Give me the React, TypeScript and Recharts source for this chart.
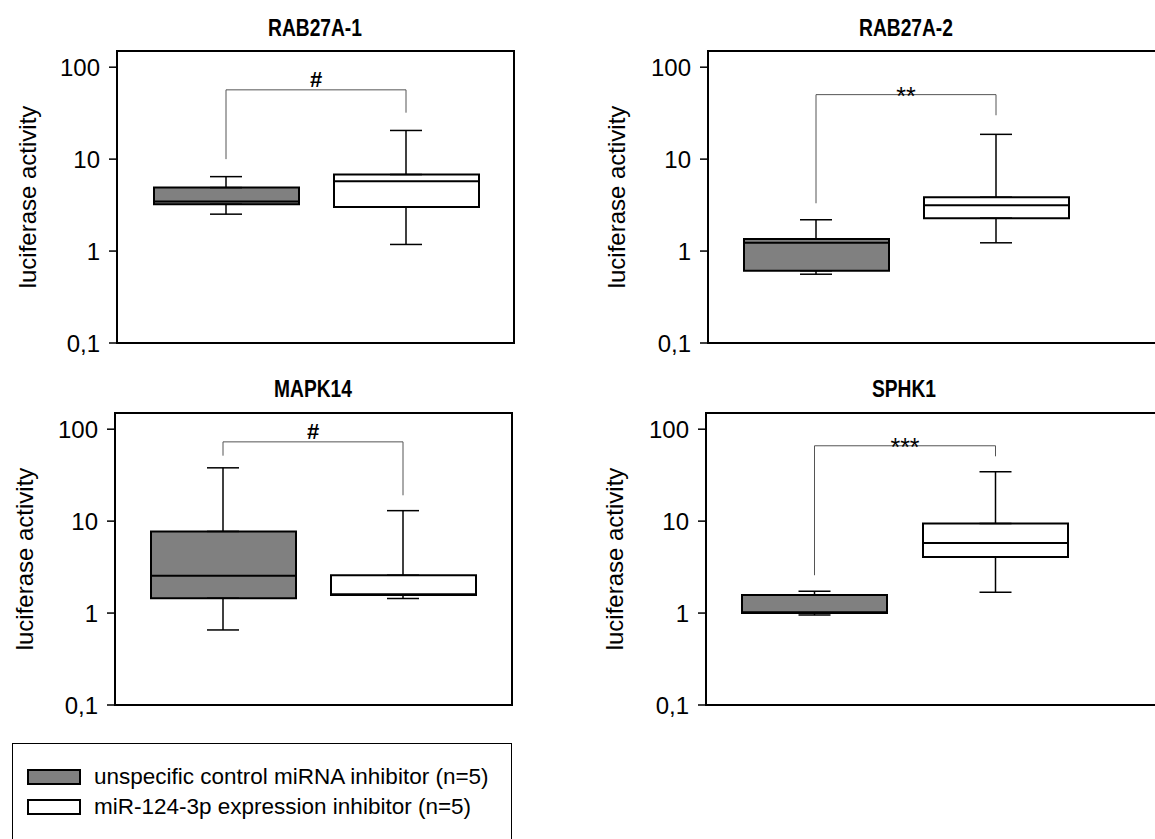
import React from 'react';
import { ComposedChart, Bar, Cell, Scatter, ErrorBar, XAxis, YAxis, ReferenceLine } from 'recharts';

const FONT = '"Liberation Sans", Arial, sans-serif';

const groupNames = ['unspecific control miRNA inhibitor (n=5)', 'miR-124-3p expression inhibitor (n=5)'];
const groupFills = ['#808080', '#ffffff'];
const categories = ['control', 'inhibitor'];
const panelTitles = ['RAB27A-1', 'RAB27A-2', 'MAPK14', 'SPHK1'];
const yTicks = [0.1, 1, 10, 100];

// [lower whisker, q1, median, q3, upper whisker] per panel
const controlStats = [
  [2.52, 3.23, 3.46, 4.9, 6.45],
  [0.56, 0.61, 1.23, 1.35, 2.19],
  [0.655, 1.45, 2.54, 7.73, 38],
  [0.95, 1.0, 1.02, 1.57, 1.73],
];
const inhibitorStats = [
  [1.18, 3.02, 5.74, 6.8, 20.5],
  [1.23, 2.28, 3.15, 3.85, 18.6],
  [1.44, 1.57, 1.6, 2.58, 13],
  [1.68, 4.07, 5.78, 9.44, 34.5],
];

// significance brackets
const bracketTop = [56.7, 50.3, 72.8, 66];
const bracketLeftEnd = [10, 3.31, 51.5, 2.58];
const bracketRightEnd = [32, 30, 19.1, 50.7];
const significance = ['#', '**', '#', '***'];

const BOX_W = 145;
const CHART_H = 361;
const M_TOP = 51;
const M_BOTTOM = 18;
const M_RIGHT = 15;

const layout = [
  { left: 0, top: 0, width: 529, yw: 117, labelX: 27, padL: 19, padR: 18, titleX: 315, titleY: 28 },
  { left: 575, top: 0, width: 600, yw: 133, labelX: 41, padL: 18, padR: 74, titleX: 906, titleY: 28 },
  { left: 0, top: 362, width: 527, yw: 115, labelX: 24, padL: 18, padR: 19, titleX: 313, titleY: 389 },
  { left: 575, top: 362, width: 600, yw: 131, labelX: 39, padL: 18, padR: 74, titleX: 904, titleY: 389 },
];

const sigStyle = [
  { fontSize: 22, fontWeight: 700, dy: -3 },
  { fontSize: 25, fontWeight: 400, dy: 10 },
  { fontSize: 22, fontWeight: 700, dy: -3 },
  { fontSize: 25, fontWeight: 400, dy: 10 },
];

const fmtTick = (v: number) => String(v).replace('.', ',');

const MedianMark = (props: any) => {
  const { cx, cy } = props;
  if (cx == null || cy == null) return <g />;
  return <line x1={cx - BOX_W / 2} x2={cx + BOX_W / 2} y1={cy} y2={cy} stroke="#000" strokeWidth={2} />;
};

const NoMark = () => <g />;

const sigLabel = (text: string, st: { fontSize: number; fontWeight: number; dy: number }) => (props: any) => {
  const vb = props.viewBox || {};
  const x = (vb.x ?? 0) + (vb.width ?? 0) / 2;
  const y = vb.y ?? 0;
  return (
    <text x={x} y={y + st.dy} textAnchor="middle" fontFamily={FONT} fontSize={st.fontSize} fontWeight={st.fontWeight} fill="#000">
      {text}
    </text>
  );
};

function BoxPanel({ idx }: { idx: number }) {
  const L = layout[idx];
  const stats = [controlStats[idx], inhibitorStats[idx]];
  const data = categories.map((name, i) => {
    const [lo, q1, med, q3, hi] = stats[i];
    return {
      name,
      box: [q1, q3],
      med,
      q1,
      q3,
      lowErr: [q1 - lo, 0],
      highErr: [0, hi - q3],
    };
  });
  const axisStroke = { stroke: '#000', strokeWidth: 2 };
  const plotW = L.width - L.yw - M_RIGHT;
  const plotH = CHART_H - M_TOP - M_BOTTOM;

  return (
    <div style={{ position: 'absolute', left: L.left, top: L.top }}>
      <ComposedChart
        width={L.width}
        height={CHART_H}
        data={data}
        margin={{ top: M_TOP, right: M_RIGHT, bottom: M_BOTTOM, left: 0 }}
      >
        <XAxis dataKey="name" tick={false} tickLine={false} height={0} axisLine={axisStroke}
          padding={{ left: L.padL, right: L.padR }} />
        <YAxis
          type="number"
          scale="log"
          domain={[0.1, 150]}
          allowDataOverflow
          ticks={yTicks}
          tickFormatter={fmtTick}
          width={L.yw}
          tickSize={8}
          tickMargin={9}
          axisLine={axisStroke}
          tickLine={{ stroke: '#000', strokeWidth: 1.5 }}
          tick={{ fontSize: 24, fill: '#000', fontFamily: FONT }}
          label={{
            value: 'luciferase activity',
            angle: -90,
            position: 'insideLeft',
            offset: L.labelX,
            style: { textAnchor: 'middle', fontSize: 24, fill: '#000', fontFamily: FONT },
          }}
        />

        <Scatter dataKey="q1" shape={NoMark} isAnimationActive={false}>
          <ErrorBar dataKey="lowErr" direction="y" width={16} stroke="#000" strokeWidth={1.5} />
        </Scatter>
        <Scatter dataKey="q3" shape={NoMark} isAnimationActive={false}>
          <ErrorBar dataKey="highErr" direction="y" width={16} stroke="#000" strokeWidth={1.5} />
        </Scatter>
        <Bar dataKey="box" barSize={BOX_W} stroke="#000" strokeWidth={2} isAnimationActive={false}>
          {data.map((d, i) => (
            <Cell key={d.name} fill={groupFills[i]} />
          ))}
        </Bar>
        <Scatter dataKey="med" shape={MedianMark} isAnimationActive={false} />

        <ReferenceLine
          segment={[{ x: categories[0], y: bracketTop[idx] }, { x: categories[1], y: bracketTop[idx] }]}
          stroke="#555" strokeWidth={1}
          label={sigLabel(significance[idx], sigStyle[idx])}
        />
        <ReferenceLine
          segment={[{ x: categories[0], y: bracketTop[idx] }, { x: categories[0], y: bracketLeftEnd[idx] }]}
          stroke="#555" strokeWidth={1}
        />
        <ReferenceLine
          segment={[{ x: categories[1], y: bracketTop[idx] }, { x: categories[1], y: bracketRightEnd[idx] }]}
          stroke="#555" strokeWidth={1}
        />
      </ComposedChart>
      {/* plot frame */}
      <div style={{
        position: 'absolute', left: L.yw - 1, top: M_TOP - 1, width: plotW + 2, height: plotH + 2,
        border: '2px solid #000', boxSizing: 'border-box', pointerEvents: 'none',
      }} />
      <div style={{
        position: 'absolute', left: L.titleX - L.left - 150, top: L.titleY - L.top - 14, width: 300,
        textAlign: 'center', fontFamily: FONT, fontWeight: 700, fontSize: 20, lineHeight: '28px', color: '#000',
        transform: 'scale(0.96, 1.18)',
      }}>
        {panelTitles[idx]}
      </div>
    </div>
  );
}

export default function App() {
  return (
    <div style={{ position: 'absolute', left: 0, top: 0, width: 1155, height: 839, overflow: 'hidden', background: '#fff' }}>
      {panelTitles.map((t, i) => <BoxPanel key={t} idx={i} />)}
      <div style={{
        position: 'absolute', left: 12, top: 743, width: 500, height: 140,
        border: '1px solid #000', boxSizing: 'border-box', fontFamily: FONT,
      }}>
        {groupNames.map((g, i) => (
          <div key={g} style={{ position: 'absolute', left: 14, top: 25 + i * 30, display: 'flex', alignItems: 'center', height: 16 }}>
            <div style={{ width: 50, height: 12, background: groupFills[i], border: '2px solid #000', marginRight: 13 }} />
            <span style={{ fontSize: 22.5, color: '#000', whiteSpace: 'nowrap' }}>{g}</span>
          </div>
        ))}
      </div>
    </div>
  );
}
